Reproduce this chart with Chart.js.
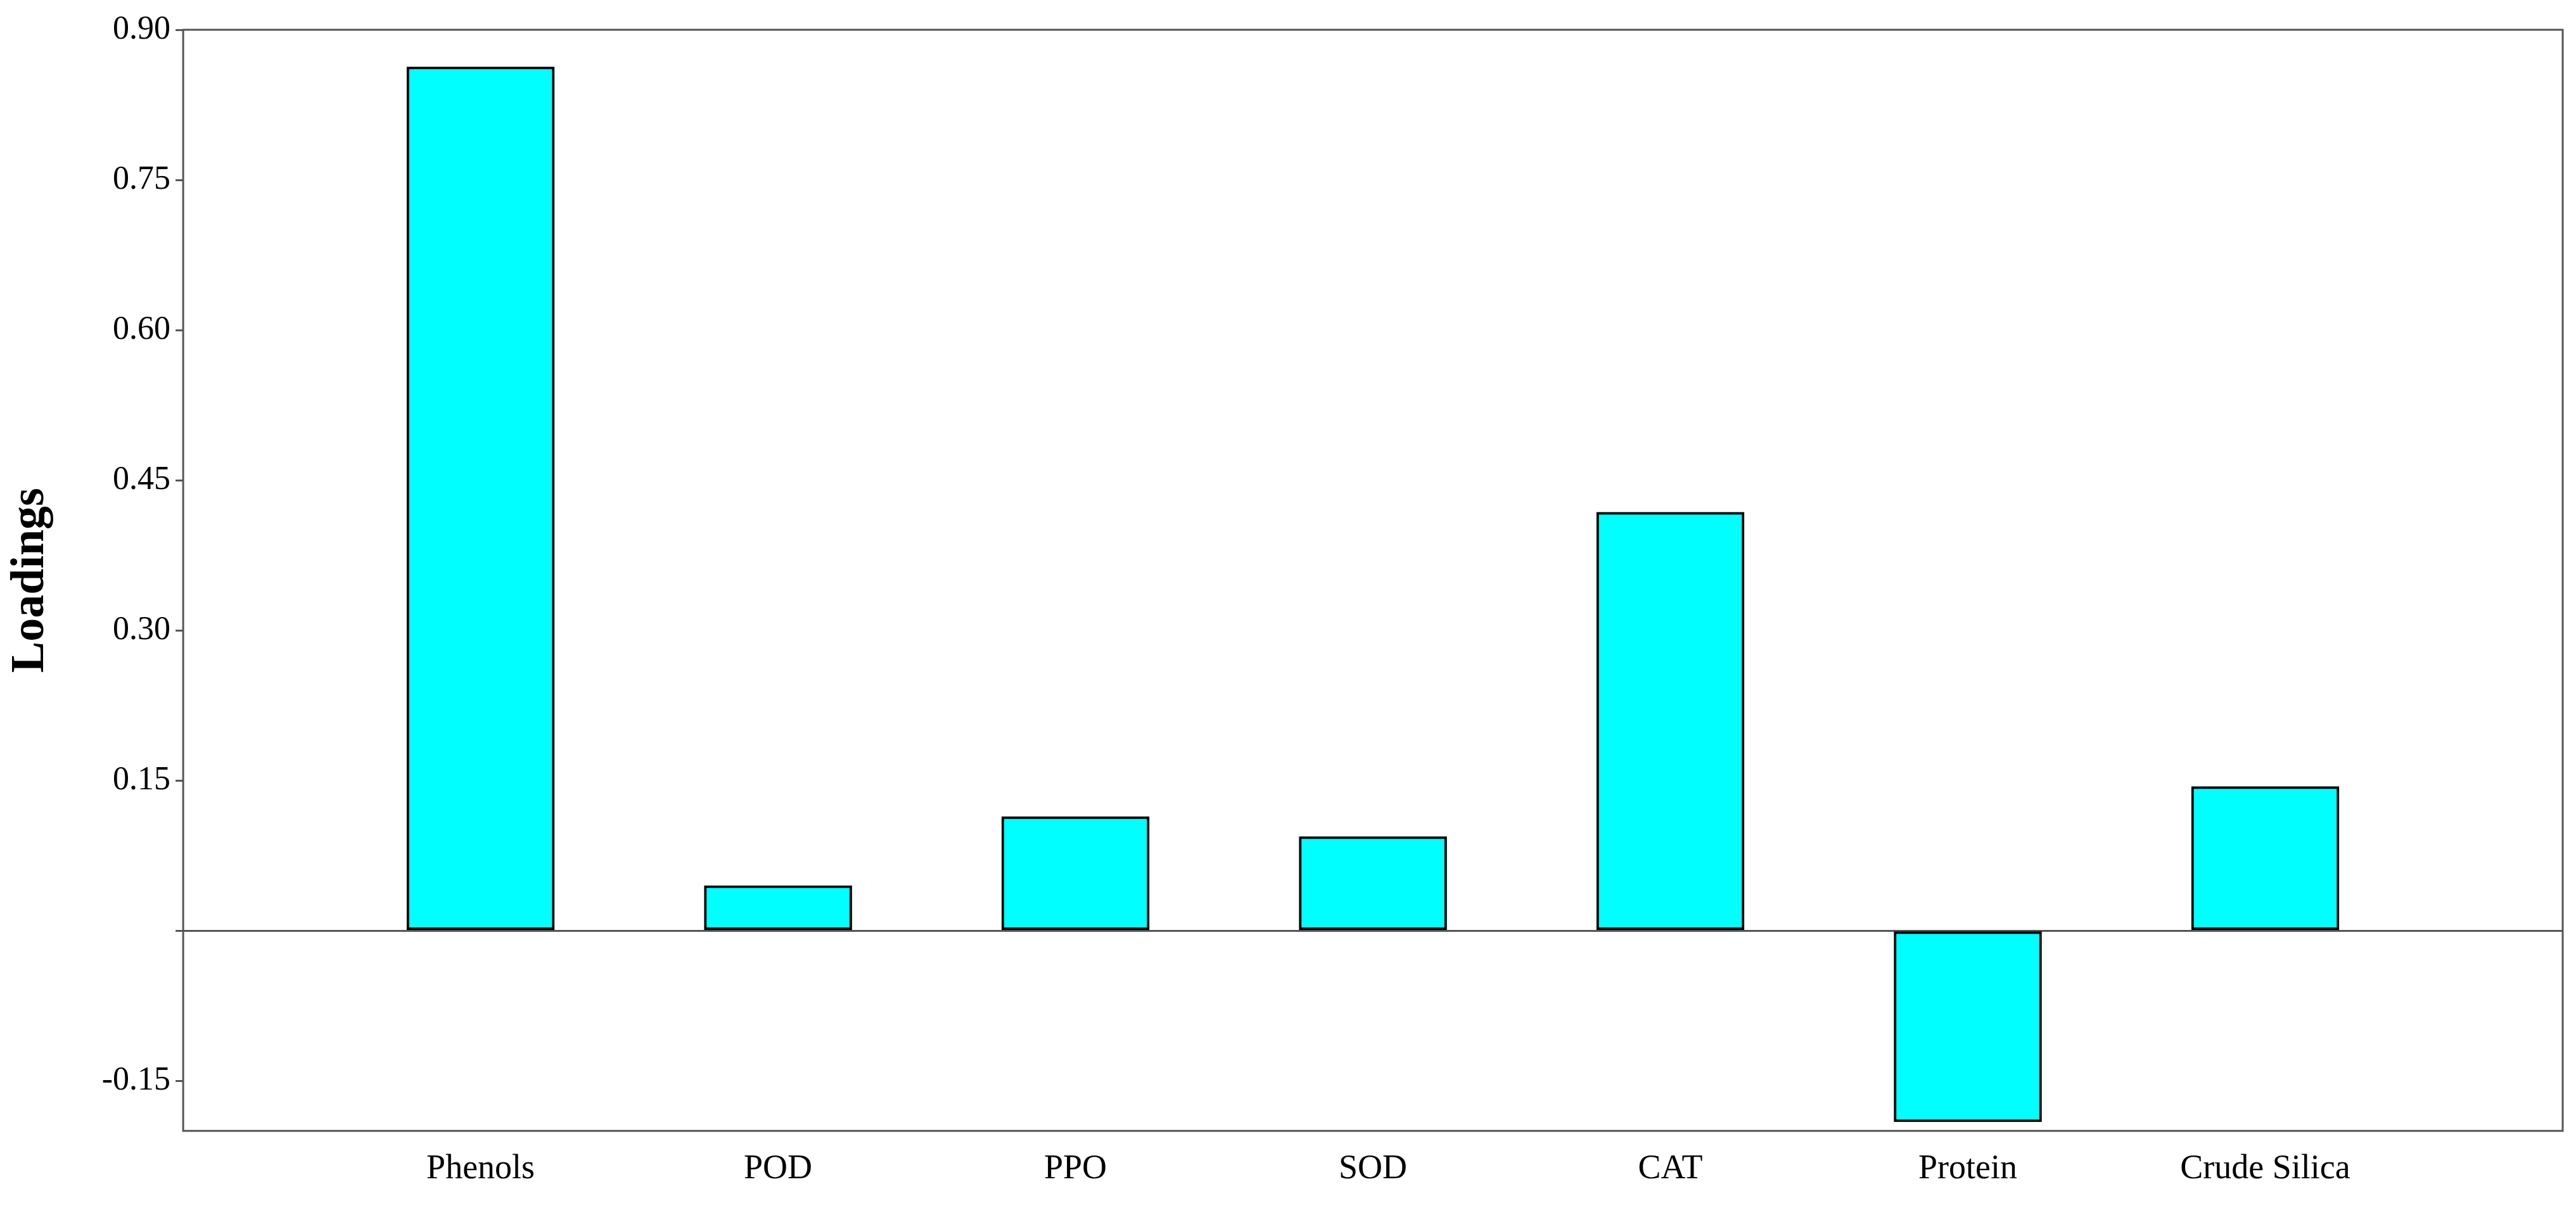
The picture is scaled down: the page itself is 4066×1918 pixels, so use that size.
<!DOCTYPE html>
<html>
<head>
<script src="https://cdn.jsdelivr.net/npm/chart.js@4"></script>
<style>
  html, body { margin: 0; padding: 0; background: #fff; }
  #wrap { width: 4066px; height: 1918px; }
</style>
</head>
<body>
<div id="wrap"><canvas id="myChart"></canvas></div>
<script>
const labels = ['', 'Phenols', 'POD', 'PPO', 'SOD', 'CAT', 'Protein', 'Crude Silica', ''];
const loadings = [null, 0.863, 0.045, 0.114, 0.094, 0.418, -0.191, 0.144, null];
const yTicks = [-0.15, 0, 0.15, 0.30, 0.45, 0.60, 0.75, 0.90];

const frame = {
    id: 'frame',
    afterDraw(chart) {
        const a = chart.chartArea, c = chart.ctx;
        c.save();
        c.strokeStyle = '#555';
        c.lineWidth = 3;
        c.strokeRect(a.left, a.top, a.right - a.left, a.bottom - a.top);
        c.restore();
    }
};

new Chart(document.getElementById('myChart'), {
    type: 'bar',
    data: {
        labels: labels,
        datasets: [{
            data: loadings,
            backgroundColor: '#00ffff',
            borderColor: '#000',
            borderWidth: 4,
            borderSkipped: false,
            barThickness: 233
        }]
    },
    options: {
        responsive: true,
        maintainAspectRatio: false,
        devicePixelRatio: 1,
        animation: false,
        layout: { padding: { left: 0, top: 47, right: 21, bottom: 20 } },
        plugins: { legend: { display: false }, tooltip: { enabled: false } },
        scales: {
            x: {
                offset: false,
                grid: { display: false },
                border: { display: false },
                ticks: {
                    autoSkip: false, maxRotation: 0, padding: 20,
                    color: '#000',
                    font: { family: 'Liberation Serif', size: 54 }
                }
            },
            y: {
                min: -0.2, max: 0.9,
                afterBuildTicks(s) { s.ticks = yTicks.map(v => ({ value: v })); },
                grid: {
                    color: c => c.tick && c.tick.value === 0 ? '#555' : 'transparent',
                    lineWidth: 3,
                    tickColor: '#555',
                    tickLength: 12
                },
                border: { display: false },
                title: {
                    display: true, text: 'Loadings', color: '#000',
                    font: { family: 'Liberation Serif', size: 74, weight: 'bold' },
                    padding: { bottom: 60 }
                },
                ticks: {
                    color: '#000', padding: 8,
                    font: { family: 'Liberation Serif', size: 52 },
                    callback: v => v === 0 ? '' : v.toFixed(2)
                }
            }
        }
    },
    plugins: [frame]
});
</script>
</body>
</html>
